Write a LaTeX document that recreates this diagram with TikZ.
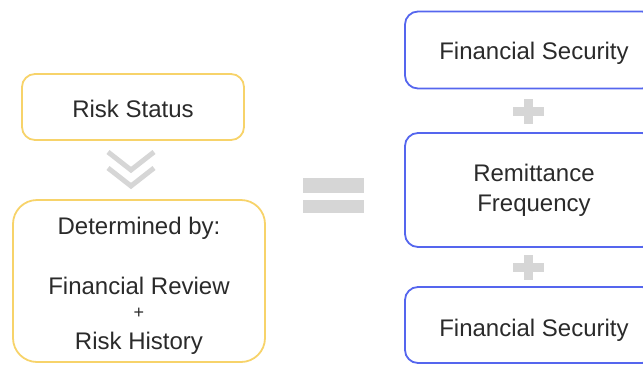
\documentclass[tikz,border=0pt]{standalone}
\usepackage{fontspec}
\setmainfont{Liberation Sans}
\definecolor{yel}{HTML}{F7D36A}
\definecolor{blu}{HTML}{5566EE}
\definecolor{lg}{HTML}{D6D6D6}
\definecolor{txt}{HTML}{2A2A2A}
\begin{document}
\begin{tikzpicture}[x=1pt,y=-1pt,
  box/.style={draw, line width=1.8pt, rounded corners=13pt, align=center, text=txt,
    font=\fontsize{24}{30}\selectfont, inner sep=0pt},
  ybox/.style={box, draw=yel},
  bbox/.style={box, draw=blu},
  lbl/.style={text=txt, font=\fontsize{24}{30}\selectfont, align=center, inner sep=0pt},
  deco/.style={draw=lg, line width=5pt}]
\useasboundingbox (0,0) rectangle (643,365);
\clip (0,0) rectangle (643,365);
\node[ybox, minimum width=222pt, minimum height=66pt] (rs) at (133,107) {};
\node[lbl] (rst) at (133,109) {Risk Status};
\node[ybox, rounded corners=24pt, minimum width=252pt, minimum height=162pt] (det) at (139,281) {};
\node[lbl] (t1) at (139,228) {Determined by:};
\node[lbl] (t2) at (139,286) {Financial Review};
\node[lbl, font=\fontsize{18}{20}\selectfont] (t3) at (139,313) {+};
\node[lbl] (t4) at (139,343) {Risk History};
% chevrons
\draw[deco] (108,152) -- (131,170) -- (154,152);
\draw[deco] (108,168) -- (131,186) -- (154,168);
% equals
\fill[lg] (303,178) rectangle (364,193);
\fill[lg] (303,200) rectangle (364,213);
% right boxes
\node[bbox, minimum width=250pt, minimum height=77pt] (b1) at (530,50) {};
\node[lbl] (l1) at (534,53) {Financial Security};
\node[bbox, minimum width=250pt, minimum height=114pt] (b2) at (530,190) {};
\node[lbl] (l2) at (534,190) {Remittance\\Frequency};
\node[bbox, minimum width=250pt, minimum height=76pt] (b3) at (530,325) {};
\node[lbl] (l3) at (534,330) {Financial Security};
% plus signs
\fill[lg] (513,107) rectangle (544,116);
\fill[lg] (524,99) rectangle (533,124);
\fill[lg] (513,263) rectangle (544,272);
\fill[lg] (524,255) rectangle (533,280);
\end{tikzpicture}
\end{document}
